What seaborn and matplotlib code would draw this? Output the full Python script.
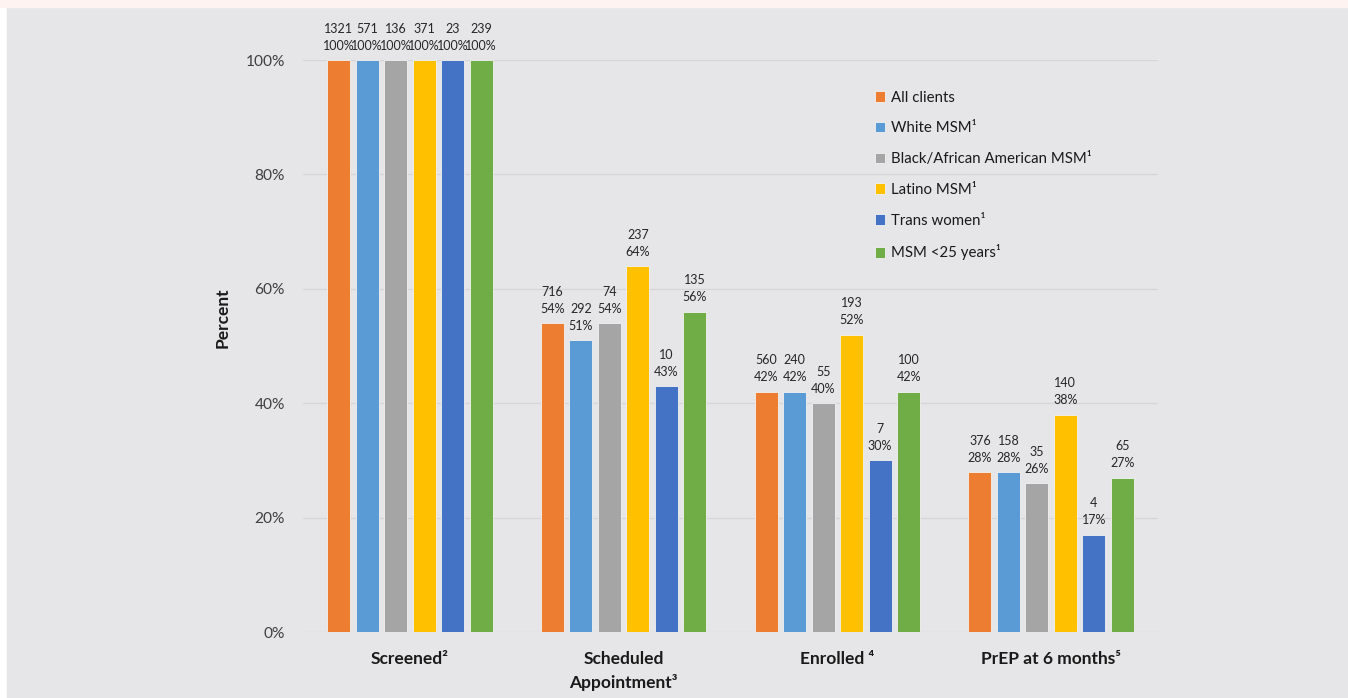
import pandas as pd
import numpy as np
import seaborn as sns
import matplotlib.pyplot as plt
from matplotlib.patches import Rectangle

stages = ['Screened²', 'Scheduled\nAppointment³', 'Enrolled ⁴', 'PrEP at 6 months⁵']
groups = ['All clients', 'White MSM¹', 'Black/African American MSM¹',
          'Latino MSM¹', 'Trans women¹', 'MSM <25 years¹']
colors = ['#ED7D31', '#5B9BD5', '#A5A5A5', '#FFC000', '#4472C4', '#70AD47']

# percent per stage, one list per group
all_pct = [100, 54, 42, 28]
white_pct = [100, 51, 42, 28]
black_pct = [100, 54, 40, 26]
latino_pct = [100, 64, 52, 38]
trans_pct = [100, 43, 30, 17]
young_pct = [100, 56, 42, 27]

all_n = [1321, 716, 560, 376]
white_n = [571, 292, 240, 158]
black_n = [136, 74, 55, 35]
latino_n = [371, 237, 193, 140]
trans_n = [23, 10, 7, 4]
young_n = [239, 135, 100, 65]

pcts = [all_pct, white_pct, black_pct, latino_pct, trans_pct, young_pct]
counts = [all_n, white_n, black_n, latino_n, trans_n, young_n]

rows = []
for g, p, n in zip(groups, pcts, counts):
    for s, pv, nv in zip(stages, p, n):
        rows.append({'stage': s, 'group': g, 'pct': pv, 'n': nv})
df = pd.DataFrame(rows)

sns.set_theme(style='white')
plt.rcParams['font.family'] = ['Lato', 'DejaVu Sans']

bg = '#E6E6E8'
fig = plt.figure(figsize=(13.48, 6.98), dpi=100)
fig.patch.set_facecolor('white')
fig.patches.append(Rectangle((7 / 1348, 0), 1 - 7 / 1348, 1 - 7 / 698,
                             transform=fig.transFigure, color=bg, zorder=-10))
fig.patches.append(Rectangle((0, 1 - 7 / 698), 1, 7 / 698,
                             transform=fig.transFigure, color='#FFF3F2', zorder=-10))

ax = fig.add_axes([303 / 1348, 1 - 632 / 698, 855 / 1348, 572 / 698])
ax.set_facecolor(bg)

sns.barplot(data=df, x='stage', y='pct', hue='group', hue_order=groups,
            palette=colors, saturation=1, width=0.8, gap=0.2, errorbar=None,
            edgecolor='#F2F2F2', linewidth=0.6, ax=ax, zorder=3)

# labels above bars (count on top, percent below)
for cont, n in zip(ax.containers, counts):
    for bar, nv in zip(cont, n):
        x = bar.get_x() + bar.get_width() / 2
        h = bar.get_height()
        ax.annotate(f'{nv}\n{h:.0f}%', (x, h), xytext=(0, 6),
                    textcoords='offset points', ha='center', va='bottom',
                    fontsize=9.0, linespacing=1.5, color='#262626',
                    annotation_clip=False)

ax.set_ylim(0, 100)
ax.set_xlim(-0.5, 3.5)
ax.set_yticks(np.arange(0, 101, 20))
ax.set_yticklabels([f'{v}%' for v in range(0, 101, 20)], fontsize=11.2, color='#404040')
ax.set_xticks(range(len(stages)))
ax.set_xticklabels(stages, fontsize=12.5, fontweight='bold', color='#1a1a1a', linespacing=1.45)
ax.tick_params(axis='y', length=0, pad=13)
ax.tick_params(axis='x', length=0, pad=14)
ax.grid(axis='y', color='#D6D6D6', linewidth=0.9, zorder=0)
for sp in ax.spines.values():
    sp.set_visible(False)
ax.set_xlabel('')
ax.set_ylabel('Percent', fontsize=12.5, fontweight='bold', color='#1a1a1a')
ax.yaxis.set_label_coords(-0.085, 0.55)

leg = ax.legend(loc='upper left', bbox_to_anchor=(861 / 1348, 1 - 77 / 698),
                bbox_transform=fig.transFigure, frameon=False, fontsize=10.8,
                handlelength=0.7, handleheight=0.7, handletextpad=0.4,
                labelspacing=1.12)
for t in leg.get_texts():
    t.set_color('#1a1a1a')

fig.savefig('out.png', dpi=100, facecolor=fig.get_facecolor())
